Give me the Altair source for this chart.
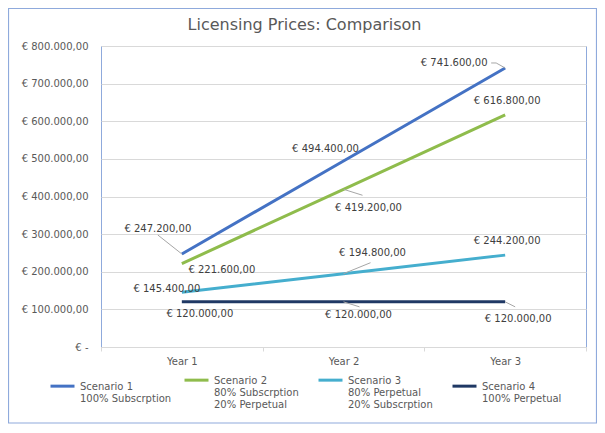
import altair as alt
import pandas as pd

# ---- data ----
years = ["Year 1", "Year 2", "Year 3"]
scenario_names = ["Scenario 1", "Scenario 2", "Scenario 3", "Scenario 4"]
scenario_notes = ["100% Subscrption", "80% Subscrption\n20% Perpetual",
                  "80% Perpetual\n20% Subscrption", "100% Perpetual"]
scenario_1 = [247200, 494400, 741600]
scenario_2 = [221600, 419200, 616800]
scenario_3 = [145400, 194800, 244200]
scenario_4 = [120000, 120000, 120000]
y_ticks = [0, 100000, 200000, 300000, 400000, 500000, 600000, 700000, 800000]

# ---- styles / layout ----
colors = ["#4472c4", "#8fbc4c", "#45aece", "#1f3864"]
FONT = "DejaVu Sans"
# per-label pixel offsets (scenario index, year index) -> (dx, dy)
label_offsets = {
    (0, 0): (-24, -25), (0, 1): (-18, -12), (0, 2): (-51, -5),
    (1, 0): (40, 6), (1, 1): (25, 19), (1, 2): (2, -14),
    (2, 0): (-15, -3), (2, 1): (29, -21), (2, 2): (2, -14),
    (3, 0): (18, 12), (3, 1): (15, 13), (3, 2): (13, 17),
}
# leader segments: (scenario, year, x1, y1, x2, y2) pixel offsets from point
leaders = [
    (0, 0, 0, 0, -24, -19),
    (0, 2, 0, 0, -9, -5),
    (0, 2, -9, -5, -14, -5),
    (1, 1, 0, 0, 19, 6),
    (2, 1, 0, 0, 27, -11),
    (3, 1, 0, 0, 16, 5),
    (3, 2, 0, 0, 10, 5),
]

keys = [n + "\n" + d for n, d in zip(scenario_names, scenario_notes)]
series = [scenario_1, scenario_2, scenario_3, scenario_4]
rows = []
for si, (key, vals) in enumerate(zip(keys, series)):
    for yi, (yr, v) in enumerate(zip(years, vals)):
        rows.append({"Scenario": key, "Year": yr, "Value": v, "si": si, "yi": yi})
df = pd.DataFrame(rows)

eur = ("'€ ' + replace(replace(replace(format({v}, ',.2f'), '.', '#'), "
       "regexp(',', 'g'), '.'), '#', ',')")
axis_expr = "datum.value == 0 ? '€ -' : " + eur.format(v="datum.value")
label_expr = eur.format(v="datum.Value")

x_scale = alt.Scale(type="band", paddingInner=0, paddingOuter=0, domain=years)
x_axis = alt.Axis(title=None, labelAngle=0, grid=False, tickBand="extent",
                  tickSize=4, labelPadding=5, domainColor="#d9d9d9",
                  tickColor="#d9d9d9")
y_scale = alt.Scale(domain=[0, 800000], nice=False)
y_axis = alt.Axis(title=None, values=y_ticks, labelExpr=axis_expr, labelOverlap=False,
                  domain=False, ticks=False, labelPadding=13, gridColor="#d9d9d9")
x_enc = alt.X("Year:N", scale=x_scale, bandPosition=0.5, axis=x_axis)
y_enc = alt.Y("Value:Q", scale=y_scale, axis=y_axis)

base = alt.Chart(df)

frame = alt.Chart(pd.DataFrame({"a": [0]})).mark_rect(
    fillOpacity=0, stroke="#8faadc", strokeWidth=1.2
).encode(x=alt.value(-92.5), x2=alt.value(495.5), y=alt.value(-37.5), y2=alt.value(377))

lines = base.mark_line(strokeWidth=3).encode(
    x=x_enc, y=y_enc,
    color=alt.Color("Scenario:N", scale=alt.Scale(domain=keys, range=colors),
                    legend=alt.Legend(title=None, orient="none", legendX=-52, legendY=324,
                                      direction="horizontal", columns=4, gridAlign="all",
                                      columnPadding=6, rowPadding=0, padding=0,
                                      symbolType="M-1,-0.3L1,-0.3", symbolSize=576,
                                      symbolStrokeWidth=3, labelOffset=4,
                                      labelExpr="split(datum.label, '\\n')",
                                      labelFont=FONT, labelFontSize=10,
                                      labelColor="#595959", labelBaseline="alphabetic",
                                      labelLimit=200)),
)

layers = [lines]
for (si, yi, x1, y1, x2, y2) in leaders:
    layers.append(
        base.transform_filter((alt.datum.si == si) & (alt.datum.yi == yi))
        .mark_rule(color="#a6a6a6", strokeWidth=1, xOffset=x1, yOffset=y1,
                   x2Offset=x2, y2Offset=y2)
        .encode(x=x_enc, x2=alt.X2("Year", bandPosition=0.5), y=y_enc, y2=alt.Y2("Value"))
    )
for (si, yi), (dx, dy) in label_offsets.items():
    layers.append(
        base.transform_filter((alt.datum.si == si) & (alt.datum.yi == yi))
        .transform_calculate(label=label_expr)
        .mark_text(dx=dx, dy=dy, font=FONT, fontSize=10, color="#404040")
        .encode(x=x_enc, y=y_enc, text="label:N")
    )
layers.append(frame)

chart = alt.layer(*layers).properties(
    width=485, height=301,
    padding={"left": 93, "top": 38, "right": 11, "bottom": 78},
    autosize=alt.AutoSizeParams(type="none"),
    title=alt.TitleParams("Licensing Prices: Comparison", font=FONT, fontSize=16,
                          fontWeight="normal", color="#595959", anchor="middle",
                          baseline="alphabetic", dx=-39, offset=-38),
).configure_view(stroke="#8faadc", strokeWidth=1).configure_axis(
    labelFont=FONT, labelFontSize=10, labelColor="#595959"
)

chart.save("out.html", embed_options={"renderer": "svg", "actions": False})
